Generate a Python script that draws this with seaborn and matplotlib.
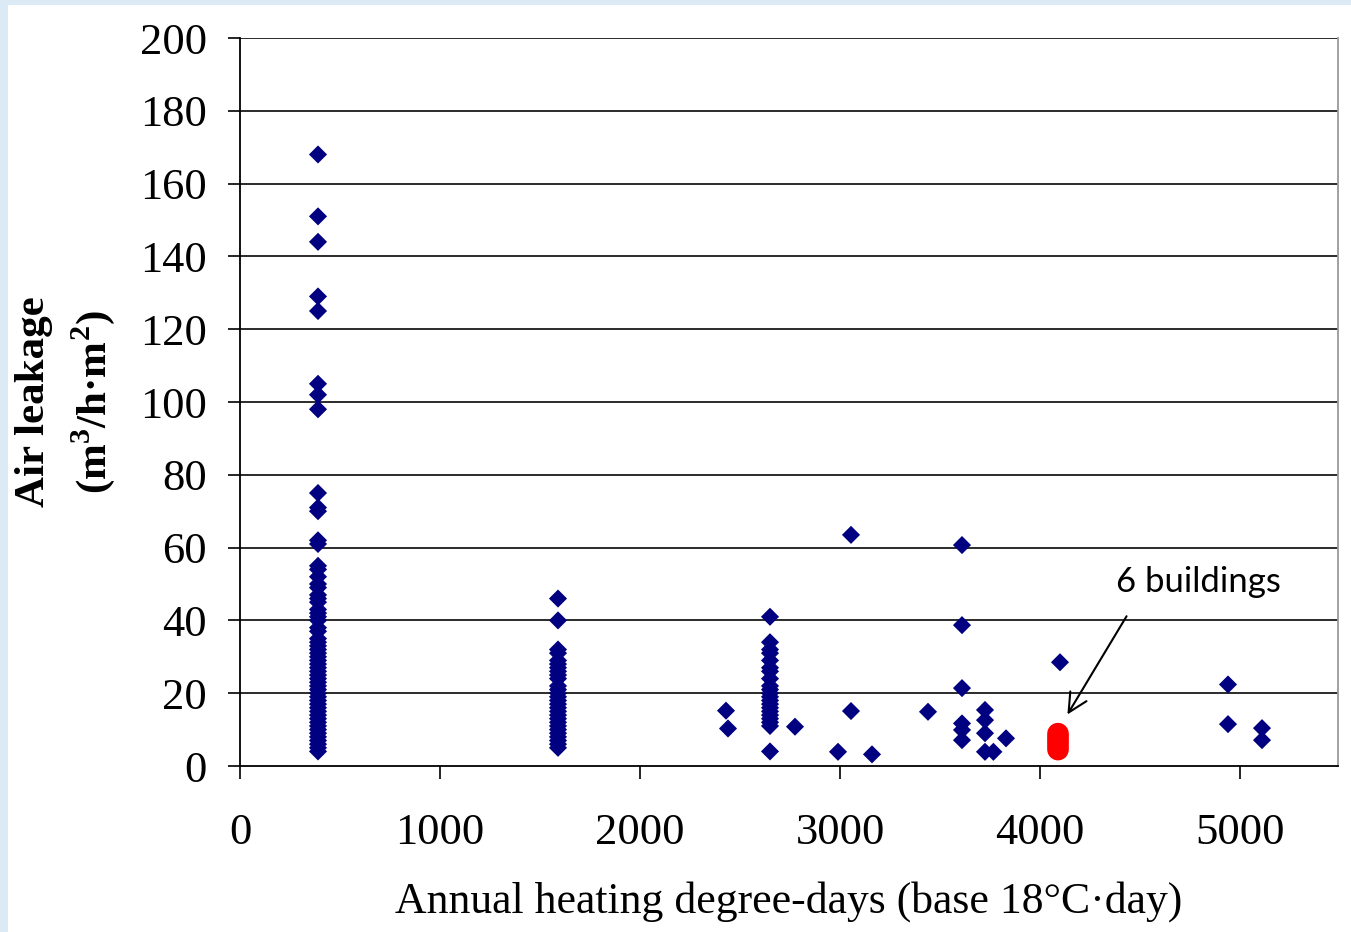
import numpy as np
import pandas as pd
import matplotlib
matplotlib.use("Agg")
import matplotlib.pyplot as plt
from matplotlib.patches import Rectangle
import seaborn as sns

# ---- data ----
hdd_col1 = 390
leak_col1 = [168, 151, 144, 129, 125, 105, 102, 98, 75, 71, 70, 62, 61,
             55, 54, 52, 50, 49, 47, 46, 45, 43, 42, 41, 40, 38, 37, 35, 34,
             33, 32, 31, 30, 29, 28, 27, 26, 25, 24, 23, 22, 21, 20, 19, 18,
             17, 16, 15, 14, 13, 12, 11, 10, 9, 8, 7, 6, 5, 4]
hdd_col2 = 1590
leak_col2 = [46, 40, 32, 31, 29, 28, 27, 26, 25, 24, 22, 21, 20, 19, 18, 17,
             16, 15, 14, 13, 12, 11, 10, 9, 8, 7, 6, 5]
hdd_col3 = 2650
leak_col3 = [41, 34, 32, 31, 29, 27, 26, 24, 22, 21, 20, 19, 18, 17, 16, 15,
             14, 13, 12, 11, 4]
hdd_other = [2430, 2440, 2775, 2990, 3055, 3055, 3160, 3440,
             3610, 3610, 3610, 3610, 3610, 3610,
             3725, 3725, 3725, 3725, 3767, 3830, 4100,
             4940, 4940, 5110, 5110]
leak_other = [15.2, 10.3, 10.8, 3.9, 63.5, 15.1, 3.2, 14.9,
              60.7, 38.7, 21.4, 11.7, 9.9, 7.1,
              15.4, 12.6, 9.0, 3.9, 3.9, 7.6, 28.5,
              22.4, 11.5, 10.4, 7.1]
hdd_red = [4090] * 6
leak_red = [4.5, 5.4, 6.3, 7.1, 8.0, 8.9]

x_ticks = [0, 1000, 2000, 3000, 4000, 5000]
y_ticks = list(range(0, 201, 20))
annotation_text = "6 buildings"
x_label = "Annual heating degree-days (base 18°C·day)"
y_label = "Air leakage\n(m$^{\\mathbf{3}}$/h·m$^{\\mathbf{2}}$)"

blue_df = pd.DataFrame({
    "hdd": [hdd_col1] * len(leak_col1) + [hdd_col2] * len(leak_col2)
           + [hdd_col3] * len(leak_col3) + hdd_other,
    "leak": leak_col1 + leak_col2 + leak_col3 + leak_other,
})
red_df = pd.DataFrame({"hdd": hdd_red, "leak": leak_red})

# ---- style ----
sns.set_theme(style="ticks")
plt.rcParams["font.family"] = ["Liberation Serif", "DejaVu Serif"]
plt.rcParams["mathtext.fontset"] = "custom"
plt.rcParams["mathtext.rm"] = "Liberation Serif"
plt.rcParams["mathtext.bf"] = "Liberation Serif:bold"

fig = plt.figure(figsize=(13.51, 9.32), dpi=100)
fig.patch.set_facecolor("#dceaf5")
fig.patches.append(Rectangle((8 / 1351, 0), 1 - 8 / 1351, 1 - 5 / 932,
                             transform=fig.transFigure, facecolor="white",
                             edgecolor="none", zorder=-10))

ax = fig.add_axes([240 / 1351, (932 - 766) / 932, 1098 / 1351, 728 / 932])
ax.set_facecolor("white")

sns.scatterplot(data=blue_df, x="hdd", y="leak", marker="D", s=85,
                color="#000080", edgecolor="none", ax=ax, zorder=3)
sns.scatterplot(data=red_df, x="hdd", y="leak", marker="o", s=240,
                color="#ff0000", edgecolor="none", ax=ax, zorder=3)

ax.set_xlim(0, 5490)
ax.set_ylim(0, 200)
ax.set_xticks(x_ticks)
ax.set_yticks(y_ticks)
ax.tick_params(axis="both", labelsize=32, colors="black", length=9, width=1.2,
               direction="out")
ax.tick_params(axis="y", pad=15)
ax.tick_params(axis="x", pad=25)

for yv in y_ticks[1:]:
    ax.axhline(yv, color="#1a1a1a", lw=1.3, zorder=1)

for side in ["left", "bottom"]:
    ax.spines[side].set_color("black")
    ax.spines[side].set_linewidth(1.3)
ax.spines["right"].set_visible(True)
ax.spines["right"].set_color("#9a9a9a")
ax.spines["right"].set_linewidth(1.3)
ax.spines["top"].set_visible(False)

ax.set_xlabel(x_label, fontsize=31.5, labelpad=20, color="black")
ax.set_ylabel(y_label, fontsize=31, fontweight="bold", labelpad=16,
              color="black", linespacing=1.45)

ax.text(4790, 50.5, annotation_text, fontsize=25, family=["Lato", "DejaVu Sans"],
        ha="center", va="center", color="black")
ax.annotate("", xy=(4130, 13.5), xytext=(4440, 41.8),
            arrowprops=dict(arrowstyle="->", color="black", lw=1.5,
                            mutation_scale=34))

fig.savefig("out.png", dpi=100, facecolor=fig.get_facecolor())
